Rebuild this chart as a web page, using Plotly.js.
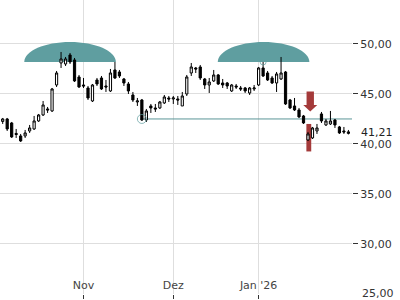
<!DOCTYPE html>
<html>
<head>
<meta charset="utf-8">
<script src="https://cdn.plot.ly/plotly-3.0.1.min.js"></script>
<style>html,body{margin:0;padding:0;background:#fff;}#chart{width:400px;height:300px;}</style>
</head>
<body>
<div id="chart"></div>
<script>
// Trading days (category sequence, no weekends/holidays)
const dates = [
 '2025-10-08','2025-10-09','2025-10-10',
 '2025-10-13','2025-10-14','2025-10-15','2025-10-16','2025-10-17',
 '2025-10-20','2025-10-21','2025-10-22','2025-10-23','2025-10-24',
 '2025-10-27','2025-10-28','2025-10-29','2025-10-30','2025-10-31',
 '2025-11-03','2025-11-04','2025-11-05','2025-11-06','2025-11-07',
 '2025-11-10','2025-11-11','2025-11-12','2025-11-13','2025-11-14',
 '2025-11-17','2025-11-18','2025-11-19','2025-11-20','2025-11-21',
 '2025-11-24','2025-11-25','2025-11-26','2025-11-27','2025-11-28',
 '2025-12-01','2025-12-02','2025-12-03','2025-12-04','2025-12-05',
 '2025-12-08','2025-12-09','2025-12-10','2025-12-11','2025-12-12',
 '2025-12-15','2025-12-16','2025-12-17','2025-12-18','2025-12-19',
 '2025-12-22','2025-12-23','2025-12-29','2025-12-30',
 '2026-01-02','2026-01-05','2026-01-06','2026-01-07','2026-01-08','2026-01-09',
 '2026-01-12','2026-01-13','2026-01-14','2026-01-15','2026-01-16',
 '2026-01-19','2026-01-20','2026-01-21','2026-01-22','2026-01-23',
 '2026-01-26','2026-01-27','2026-01-28','2026-01-29','2026-01-30'
];
const open  = [42.25,42.5,42.1,41.05,40.8,40.8,41.3,41.5,42.3,42.9,43.5,43.3,45.9,48.1,48.0,48.9,48.4,46.7,45.9,45.6,
               44.3,46.4,46.6,45.8,45.3,47.4,47.2,46.5,46.0,44.9,44.2,44.4,42.4,43.8,43.6,43.6,44.1,44.6,44.5,44.5,
               43.8,45.0,47.1,47.6,47.7,46.5,45.9,46.3,46.9,46.1,46.1,45.3,45.8,45.6,45.6,45.1,45.5,45.9,47.6,47.1,
               46.6,46.1,46.5,47.2,44.4,43.8,43.4,42.8,40.4,40.6,41.3,43.0,41.9,42.0,42.4,41.7,41.3,41.05];
const high  = [42.6,42.6,42.2,41.5,41.0,41.4,41.9,42.8,43.0,44.3,43.7,45.6,47.3,49.2,48.7,49.1,48.6,46.9,46.6,45.8,
               46.0,46.6,46.8,46.4,47.5,48.2,47.4,46.6,46.2,45.2,44.6,44.5,43.5,44.0,44.0,44.3,44.9,44.8,44.8,44.8,
               45.2,46.9,48.1,47.7,47.9,46.6,46.6,47.4,47.0,46.5,46.2,46.0,46.0,45.8,45.7,45.7,45.9,47.7,48.2,47.3,
               46.8,47.2,48.7,47.3,44.5,44.6,43.6,42.9,41.2,41.7,42.0,43.2,42.5,43.3,42.5,41.8,41.7,41.4];
const low   = [42.0,41.3,40.6,40.6,40.2,40.6,41.1,41.4,42.2,42.8,43.1,43.2,45.7,47.6,47.8,48.0,46.2,45.6,45.6,44.4,
               44.2,45.8,45.4,45.2,45.2,46.5,46.6,45.8,45.0,44.2,43.8,42.3,42.2,43.1,43.2,43.5,44.0,44.2,44.0,43.9,
               43.8,44.8,46.8,47.1,46.4,45.5,45.1,46.2,45.9,45.6,45.5,45.2,45.5,45.3,45.1,44.9,45.3,45.8,46.7,46.3,
               46.0,45.2,46.4,43.9,43.5,43.3,42.6,42.0,40.3,40.5,41.0,42.1,41.8,41.9,41.6,41.0,41.0,40.95];
const close = [42.5,41.5,40.7,40.95,40.3,41.1,41.6,42.3,42.9,43.9,43.4,45.5,47.1,48.5,48.5,48.2,46.3,45.7,45.8,44.6,
               45.9,46.0,45.5,45.7,47.1,46.6,46.8,46.1,45.3,44.4,44.3,42.4,43.3,43.6,43.5,44.2,44.7,44.5,44.6,44.4,
               44.8,46.7,47.7,47.5,46.6,45.9,46.2,46.9,46.0,45.9,45.8,45.9,45.7,45.5,45.3,45.6,45.6,47.6,46.8,46.4,
               46.1,47.0,47.1,44.0,43.6,43.4,42.7,42.1,41.0,41.6,41.6,42.3,42.3,42.3,41.9,41.1,41.2,41.21];

const monthTickDates = ['2025-11-03','2025-12-01','2026-01-02'];
const monthTickLabels = ['Nov','Dez',"Jan '26"];
const priceTicks = [25,30,35,40,45,50];
const lastPrice = 41.21;

// Double-top pattern markers
const topDates = ['2025-10-29','2026-01-05'];   // centres of the two tops
const topLevel = 48.2;
const topHeight = 2.0;
const topHalfSpan = 10.2;
const necklineStart = '2025-11-20';
const necklineLevel = 42.5;
const breakDate = '2026-01-19';
const breakBar = [39.25, 42.0];
const arrowLevels = [45.25, 43.9, 43.25];

const idx = d => dates.indexOf(d);
const xs = dates.map((d, i) => i);
const fmt = v => v.toFixed(2).replace('.', ',');

const teal = '#5f9ea0';
const red = '#a43a3a';

function dome(c) {
  const k = 0.5523, a = topHalfSpan, h = topHeight, y0 = topLevel;
  const x0 = c - a, x1 = c + a;
  return `M ${x0},${y0} C ${x0},${y0 + k*h} ${c - k*a},${y0 + h} ${c},${y0 + h} ` +
         `C ${c + k*a},${y0 + h} ${x1},${y0 + k*h} ${x1},${y0} Z`;
}
function arrow(c) {
  const bw = 0.82, hw = 1.56;
  const [t, m, b] = arrowLevels;
  return `M ${c-bw},${t} L ${c+bw},${t} L ${c+bw},${m} L ${c+hw},${m} L ${c},${b} L ${c-hw},${m} L ${c-bw},${m} Z`;
}

const bi = idx(breakDate);
const shapes = [
  ...topDates.map(d => ({type:'path', path: dome(idx(d) + (d === '2026-01-05' ? 0.1 : 0)), fillcolor: teal, line:{width:0}, layer:'between', xref:'x', yref:'y'})),
  {type:'line', xref:'x', yref:'y', x0: idx(necklineStart), x1: 79, y0: necklineLevel, y1: necklineLevel, line:{color:'#5a9597', width:1}, layer:'between'},
  {type:'rect', xref:'x', yref:'y', x0: bi - 0.36, x1: bi + 0.72, y0: breakBar[0], y1: breakBar[1], fillcolor: red, line:{width:0}, layer:'between'},
  {type:'path', xref:'x', yref:'y', path: arrow(bi + 0.5), fillcolor: red, line:{width:0}, layer:'above'}
];

const traces = [
  {
    type:'candlestick', x: xs, open, high, low, close,
    increasing:{line:{color:'#000', width:1}, fillcolor:'#fff'},
    decreasing:{line:{color:'#000', width:1}, fillcolor:'#000'},
    whiskerwidth: 0, hoverinfo:'skip'
  },
  {
    type:'scatter', mode:'markers',
    x:[idx(necklineStart), idx('2026-01-05')], y:[necklineLevel, topLevel],
    marker:{symbol:'circle-open', size:[9,6], color: teal, line:{width:1, color: teal}},
    hoverinfo:'skip'
  }
];

const layout = {
  width:400, height:300,
  margin:{l:0, r:48, t:0, b:6},
  paper_bgcolor:'#fff', plot_bgcolor:'#fff',
  showlegend:false,
  separators:',.',
  font:{family:'DejaVu Sans', size:11, color:'#333'},
  xaxis:{
    range:[-0.6, 77.8],
    tickvals: monthTickDates.map(idx), ticktext: monthTickLabels,
    showgrid:true, gridcolor:'#dedede', gridwidth:1,
    ticks:'outside', ticklen:4, tickcolor:'#333',
    ticklabelposition:'inside',
    zeroline:false, showline:false,
    rangeslider:{visible:false}, fixedrange:true
  },
  yaxis:{
    side:'right', range:[24.99, 54.4],
    tickvals: priceTicks, tickformat:'.2f',
    ticks:'outside', ticklen:5, tickcolor:'#333',
    ticklabeloverflow:'allow',
    showgrid:true, gridcolor:'#dedede', gridwidth:1,
    zeroline:false, showline:false, fixedrange:true
  },
  shapes,
  annotations:[
    {
      xref:'paper', x:1, xanchor:'left', xshift:8,
      yref:'y', y:priceTicks[0], yanchor:'middle',
      text: fmt(priceTicks[0]), showarrow:false,
      font:{family:'DejaVu Sans', size:11, color:'#333'}
    },
    {
      xref:'paper', x:1, xanchor:'left', xshift:8,
      yref:'y', y:lastPrice, yanchor:'middle', yshift:-1,
      text: fmt(lastPrice), showarrow:false,
      font:{family:'DejaVu Sans', size:11, color:'#222'}, bgcolor:'#fff', borderpad:0
    }
  ]
};

Plotly.newPlot('chart', traces, layout, {staticPlot:true, displayModeBar:false});
</script>
</body>
</html>
